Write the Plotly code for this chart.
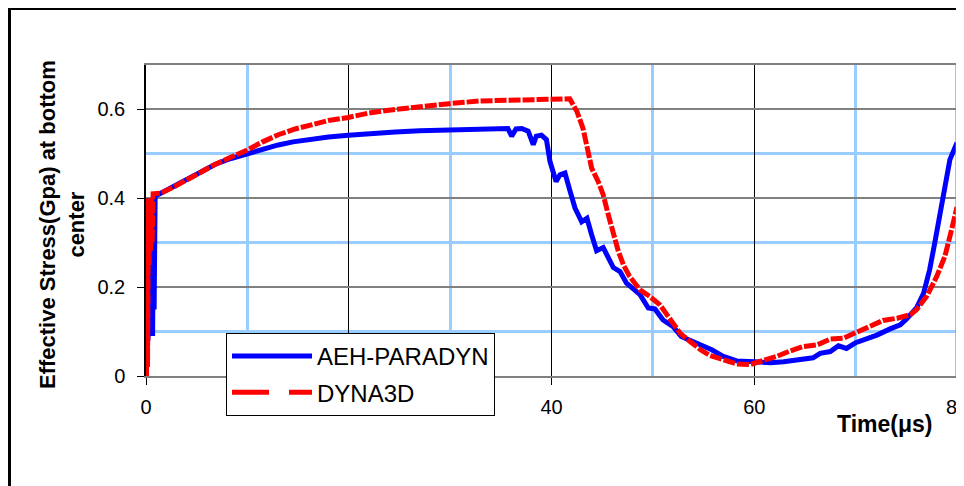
import plotly.graph_objects as go

# ---- data ----
blue_t = [0, 0.05, 0.1, 0.15, 0.2, 0.3, 0.35, 0.45, 0.5, 0.6, 0.65, 0.75, 0.8, 0.9, 1.5,
          2.86, 4.83, 6.8, 8.3, 9.93, 11.5, 13.05, 14.5, 16.3, 18.0, 19.96, 22.0, 24.6, 27.0,
          29.9, 32.5, 35.7, 36.07, 36.5, 37.06,
          37.7, 38.2, 38.5, 39.0, 39.5, 39.85, 40.45, 40.84, 41.33, 41.83, 42.32, 42.98,
          43.5, 43.96, 44.45, 45.1, 45.6, 46.1, 46.76, 47.4, 48.07, 48.73, 49.55, 50.2,
          51.0, 52.0, 52.8, 54.0, 55.0, 55.8, 56.95, 58.27, 60.0, 61.6, 62.9, 64.5, 65.8,
          66.5, 67.5, 68.3, 69.1, 70.0, 71.1, 72.1, 73.4, 74.4, 75.0, 76.0, 76.7, 77.3,
          77.8, 78.3, 78.8, 79.3, 80.0]
blue_v = [0, 0.39, 0.10, 0.40, 0.08, 0.40, 0.12, 0.40, 0.10, 0.40, 0.09, 0.40, 0.15, 0.405, 0.412,
          0.428, 0.453, 0.476, 0.489, 0.500, 0.511, 0.520, 0.527, 0.533, 0.538, 0.542, 0.546, 0.549, 0.552,
          0.554, 0.556, 0.557, 0.540, 0.556, 0.557,
          0.551, 0.521, 0.540, 0.542, 0.532, 0.483, 0.438, 0.453, 0.457, 0.416, 0.378, 0.347,
          0.355, 0.318, 0.282, 0.289, 0.265, 0.244, 0.235, 0.209, 0.196, 0.183, 0.153, 0.151,
          0.126, 0.111, 0.089, 0.077, 0.066, 0.059, 0.044, 0.034, 0.032, 0.030, 0.032, 0.038, 0.041,
          0.051, 0.055, 0.068, 0.062, 0.075, 0.083, 0.092, 0.106, 0.115, 0.128, 0.153, 0.186, 0.239,
          0.299, 0.359, 0.427, 0.487, 0.525]

red_t = [0, 0.05, 0.1, 0.15, 0.25, 0.3, 0.4, 0.45, 0.55, 0.6, 0.7, 1.5, 2.86, 4.83, 6.8, 8.3,
         9.93, 11.5, 13.05, 14.7, 16.3, 18.0, 19.96, 22.0, 24.6, 27.0, 29.9, 32.9, 35.7, 38.5,
         41.8, 42.5, 43.1, 43.6, 43.96,
         44.6, 45.1, 45.6, 46.1, 46.6, 47.1, 47.7, 48.73, 49.7, 50.7, 51.7, 52.7, 53.7,
         54.7, 55.65, 56.95, 58.27, 59.6, 60.9, 62.2, 63.5, 64.8, 66.2, 67.5, 68.8, 70.0,
         71.4, 72.7, 74.1, 75.4, 76.0, 77.0, 78.0, 78.8, 79.3, 80.0]
red_v = [0, 0.0, 0.38, 0.02, 0.40, 0.25, 0.40, 0.28, 0.40, 0.30, 0.41, 0.412, 0.427, 0.452, 0.476, 0.492,
         0.508, 0.527, 0.543, 0.556, 0.566, 0.575, 0.582, 0.592, 0.600, 0.607, 0.613, 0.619, 0.621, 0.623,
         0.624, 0.596, 0.558, 0.506, 0.468,
         0.438, 0.408, 0.363, 0.318, 0.280, 0.250, 0.224, 0.194, 0.179, 0.160, 0.130, 0.096, 0.077,
         0.059, 0.046, 0.036, 0.027, 0.026, 0.035, 0.044, 0.056, 0.066, 0.070, 0.083, 0.085, 0.098,
         0.111, 0.125, 0.130, 0.138, 0.149, 0.179, 0.224, 0.269, 0.314, 0.380]

series_names = ["AEH-PARADYN", "DYNA3D"]
x_ticks = [0, 20, 40, 60, 80]
x_minor = [10, 30, 50, 70]
y_ticks = [0, 0.2, 0.4, 0.6]
y_tick_text = ["0", "0.2", "0.4", "0.6"]
y_minor = [0.1, 0.3, 0.5]

FONT = "Liberation Sans, Arial, sans-serif"

fig = go.Figure()
fig.add_trace(go.Scatter(x=blue_t, y=blue_v, mode="lines", name=series_names[0],
                         line=dict(color="#0000FF", width=5), legendgroup="a"))
fig.add_trace(go.Scatter(x=red_t, y=red_v, mode="lines", name=series_names[1],
                         line=dict(color="#FF0000", width=5, dash="12px,2px"),
                         showlegend=False, legendgroup="b"))
# legend entry for the dashed series (long-dash sample, as in the reference)
fig.add_trace(go.Scatter(x=[None], y=[None], mode="lines", name=series_names[1],
                         line=dict(color="#FF0000", width=5, dash="37px,20px"),
                         legendgroup="b"))

# page has an 8px body margin: figure origin sits at page (8, 8)
OFF = 8
W, H = 964 - OFF, 486 - OFF
# plot area in page px: x 146..957, y 65..376
L, R, T, B = 146 - OFF, 957 - OFF, 65 - OFF, 376 - OFF
pw, ph = R - L, B - T

def px_x(p):
    return (p - OFF - L) / pw

def px_y(p):
    return (B - (p - OFF)) / ph

fig.update_layout(
    width=W, height=H,
    margin=dict(l=L, r=W - R, t=T, b=H - B, pad=0, autoexpand=False),
    paper_bgcolor="white", plot_bgcolor="white",
    font=dict(family=FONT, color="black", size=20),
    showlegend=True,
    legend=dict(x=px_x(226), y=px_y(333), xanchor="left", yanchor="top",
                bgcolor="white", bordercolor="black", borderwidth=1,
                font=dict(family=FONT, size=24, color="black"),
                traceorder="grouped", tracegroupgap=2, itemwidth=80),
    xaxis=dict(range=[0, 80], tickvals=x_ticks, ticktext=[str(v) for v in x_ticks],
               showgrid=True, gridcolor="black", gridwidth=1,
               minor=dict(tickvals=x_minor, showgrid=True, gridcolor="#99CCFF", gridwidth=3, ticks=""),
               showline=True, linecolor="#808080", linewidth=2, mirror=True,
               ticks="outside", tickcolor="black", ticklen=7, tickwidth=1,
               ticklabelstandoff=5, ticklabeloverflow="allow", automargin=False,
               zeroline=False, tickfont=dict(size=20)),
    yaxis=dict(range=[0, 0.7], tickvals=y_ticks, ticktext=y_tick_text,
               showgrid=True, gridcolor="#808080", gridwidth=1.5,
               minor=dict(tickvals=y_minor, showgrid=True, gridcolor="#99CCFF", gridwidth=3, ticks=""),
               showline=True, linecolor="black", linewidth=1.5,
               ticks="outside", tickcolor="black", ticklen=7, tickwidth=1,
               ticklabelstandoff=8, automargin=False, zeroline=False, tickfont=dict(size=20)),
    shapes=[
        dict(type="line", xref="paper", yref="paper", x0=1, x1=1, y0=0, y1=1,
             line=dict(color="#808080", width=3)),
        dict(type="rect", xref="paper", yref="paper",
             x0=px_x(9.5), x1=px_x(1000), y0=px_y(540), y1=px_y(8.5),
             line=dict(color="black", width=3), fillcolor="rgba(0,0,0,0)"),
    ],
    annotations=[
        dict(text="<b>Time(μs)</b>", xref="paper", yref="paper",
             x=px_x(884), y=px_y(424), xanchor="center", yanchor="middle",
             showarrow=False, font=dict(family=FONT, size=23, color="black")),
        dict(text="<b>Effective Stress(Gpa) at bottom<br>center</b>", xref="paper", yref="paper",
             x=px_x(62), y=px_y(225), xanchor="center", yanchor="middle", textangle=-90,
             showarrow=False, font=dict(family=FONT, size=22, color="black")),
    ],
)

fig.write_html("out.html")
